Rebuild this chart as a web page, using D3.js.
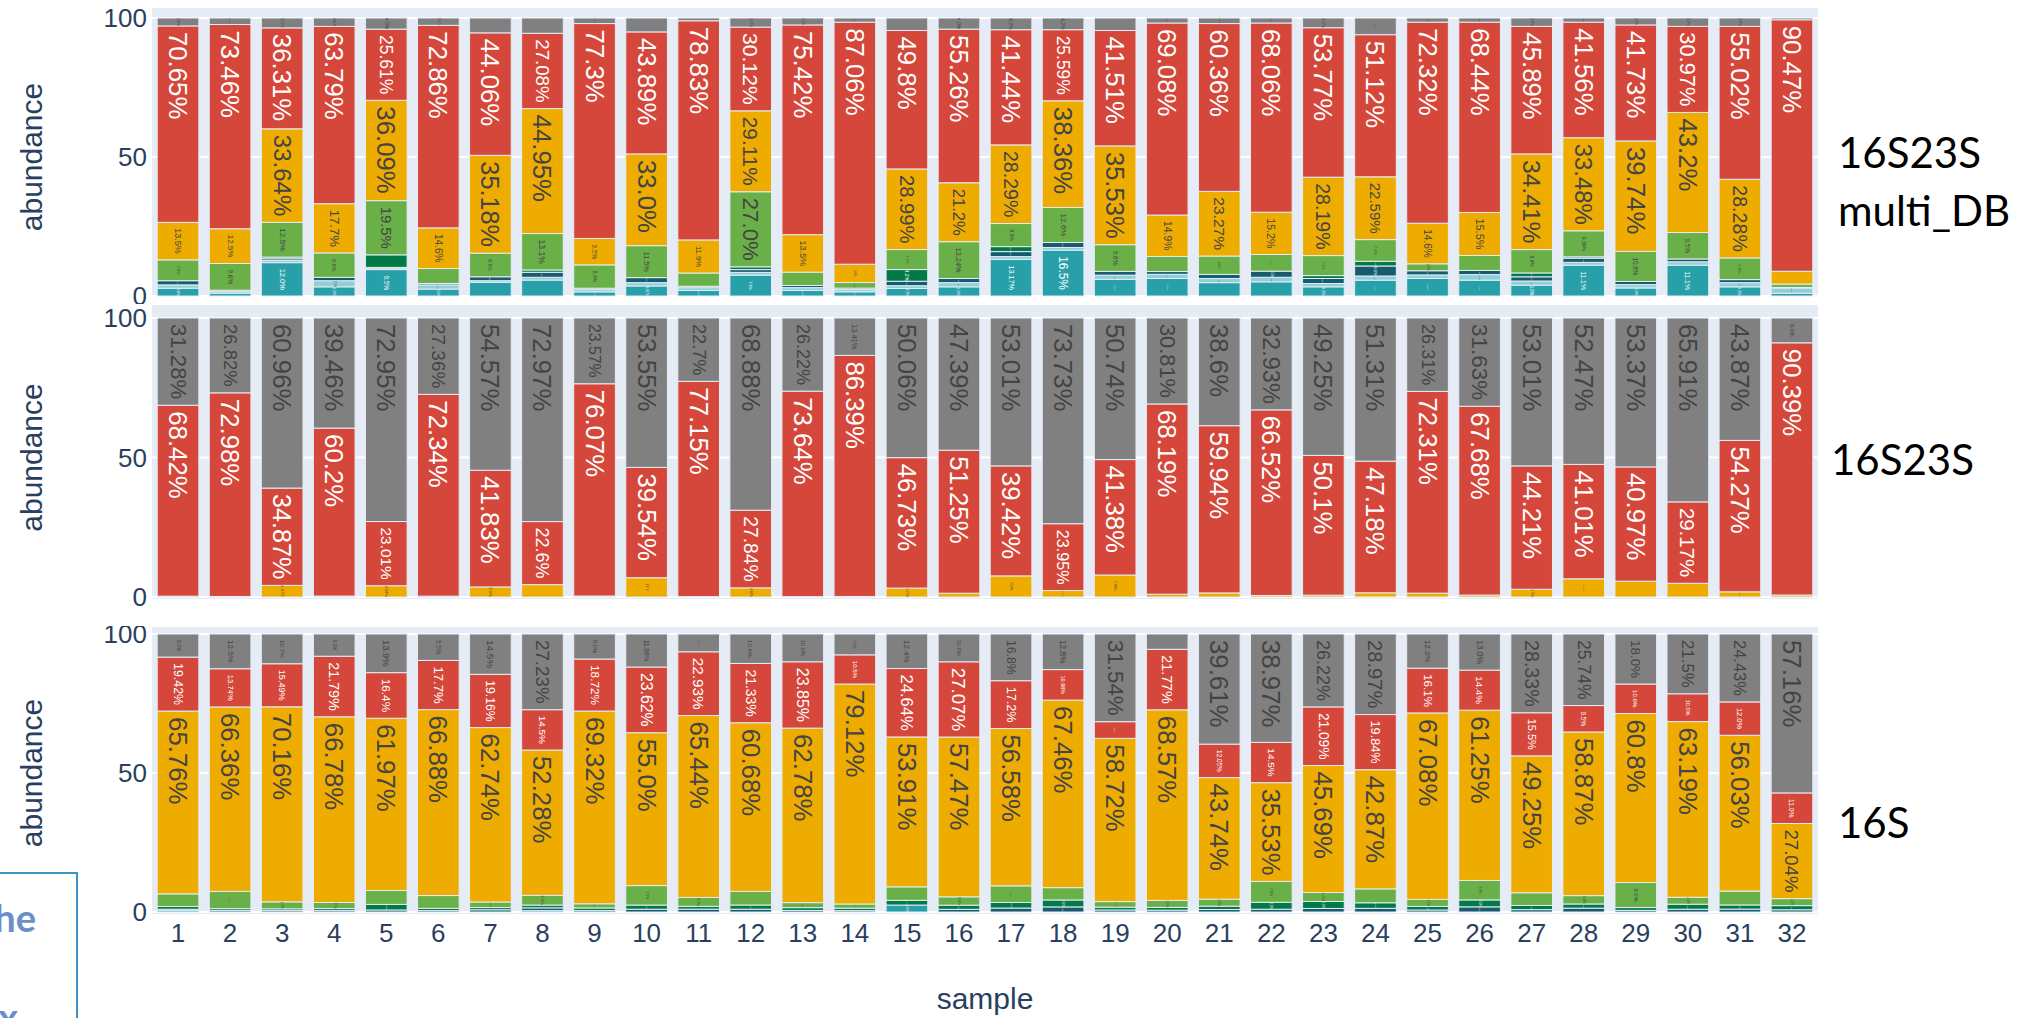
<!DOCTYPE html>
<html><head><meta charset="utf-8">
<script src="https://cdn.jsdelivr.net/npm/d3@7/dist/d3.min.js"></script>
<style>body{margin:0;background:#fff;} svg{display:block;}</style>
</head><body>
<svg id="chart" width="2028" height="1018"></svg>
<script>
// ---------- data ----------
const samples = ["1","2","3","4","5","6","7","8","9","10","11","12","13","14","15","16",
                 "17","18","19","20","21","22","23","24","25","26","27","28","29","30","31","32"];
const yTicks = [0, 50, 100];
const seriesNames = ["teal","ltblue","navy","dkgreen","green","yellow","red","gray"];
const panelNames = ["16S23S\nmulti_DB", "16S23S", "16S"];

// panel 1 : 16S23S multi_DB
const p1_teal   = [2.8,1.0,12.0,3.3,9.5,2.5,4.92,5.73,1.5,3.61,2.0,7.5,2.0,1.5,2.7,3.3,13.17,16.5,6.0,6.3,4.8,5.1,3.3,5.7,6.3,5.7,3.9,11.1,2.9,11.1,3.3,1.0];
const p1_ltblue = [1.2,0.6,0.8,2.2,0.5,1.5,0.6,1.0,0.8,1.2,1.0,1.0,1.0,0.8,1.0,1.5,1.0,0.95,1.5,1.5,1.5,1.64,1.2,1.5,1.28,2.0,1.5,1.0,1.2,1.2,1.5,1.8];
const p1_navy   = [1.5,0.5,0.6,1.2,0.3,0.5,1.4,1.8,0.5,1.8,0.5,1.0,0.78,0.54,1.61,1.5,1.8,1.8,1.36,1.0,1.47,2.2,1.8,3.6,1.5,1.5,1.5,1.5,1.13,1.03,1.1,0.3];
const p1_dkgreen= [0,0,0.6,0,4.5,0,0,0.84,0,0,0,1.0,0,0,4.2,0,1.8,0,0,0,0,0,1.04,1.69,0,0,1.4,0.5,0,0,0,0];
const p1_green  = [7.5,9.6,12.5,8.8,19.5,5.4,8.5,13.1,8.4,11.5,4.77,27.0,4.8,2.0,7.2,13.24,8.3,12.6,9.6,5.42,6.6,6.0,7.2,7.8,2.5,5.36,8.4,9.36,10.8,9.5,7.8,1.2];
const p1_yellow = [13.5,12.5,33.64,17.7,36.09,14.6,35.18,44.95,9.5,33.0,11.9,29.11,13.5,6.6,28.99,21.2,28.29,38.36,35.53,14.9,23.27,15.2,28.19,22.59,14.6,15.5,34.41,33.48,39.74,43.2,28.28,4.6];
const p1_red    = [70.65,73.46,36.31,63.79,25.61,72.86,44.06,27.08,77.3,43.89,78.83,30.12,75.42,87.06,49.8,55.26,41.44,25.59,41.51,69.08,60.36,68.06,53.77,51.12,72.32,68.44,45.89,41.56,41.73,30.97,55.02,90.47];
const p1_gray   = [2.85,2.34,3.55,3.01,4.0,2.64,5.34,5.5,2.0,5.0,1.0,3.27,2.5,1.5,4.5,4.0,4.2,4.2,4.5,1.8,2.0,1.8,3.5,6.0,1.5,1.5,3.0,1.5,2.5,3.0,3.0,0.63];

// panel 2 : 16S23S
const p2_yellow = [0.3,0.2,4.17,0.34,4.04,0.3,3.6,4.43,0.36,6.91,0.15,3.28,0.14,0.2,3.21,1.36,7.57,2.32,7.88,1.0,1.46,0.55,0.65,1.51,1.38,0.69,2.78,6.52,5.66,4.92,1.86,0.71];
const p2_red    = [68.42,72.98,34.87,60.2,23.01,72.34,41.83,22.6,76.07,39.54,77.15,27.84,73.64,86.39,46.73,51.25,39.42,23.95,41.38,68.19,59.94,66.52,50.1,47.18,72.31,67.68,44.21,41.01,40.97,29.17,54.27,90.39];
const p2_gray   = [31.28,26.82,60.96,39.46,72.95,27.36,54.57,72.97,23.57,53.55,22.7,68.88,26.22,13.41,50.06,47.39,53.01,73.73,50.74,30.81,38.6,32.93,49.25,51.31,26.31,31.63,53.01,52.47,53.37,65.91,43.87,8.9];

// panel 3 : 16S
const p3_teal   = [0.5,0,0,0,0,0,0,0.49,0,0,0,0,0,0,2.5,0,0,0,0,0,0,0,0,0,0,0,0,0,0,0,0,0];
const p3_navy   = [0.5,0.5,0.5,0.5,0.73,0.5,0.8,1.0,0.5,1.0,1.03,1.01,0.57,0.48,0,0.96,1.42,1.83,0.74,0.66,0.9,1.0,1.28,1.32,0.72,1.85,0.85,1.39,0.6,1.0,1.04,0.8];
const p3_dkgreen= [1.0,0.7,0.65,0.73,2.0,0.81,0.8,1.0,0.96,1.5,1.0,1.5,1.0,0.9,1.7,1.5,2.0,2.5,1.0,1.0,1.2,2.5,2.5,2.0,1.3,2.5,1.5,1.5,1.0,1.81,1.5,1.5];
const p3_green  = [4.52,6.2,2.5,2.2,5.0,4.61,2.0,3.5,1.5,7.0,3.2,4.88,1.8,1.5,4.85,3.0,6.0,4.43,2.0,2.5,2.5,7.5,3.22,5.0,2.5,7.0,4.57,3.0,9.0,2.5,5.0,2.5];
const p3_yellow = [65.76,66.36,70.16,66.78,61.97,66.88,62.74,52.28,69.32,55.0,65.44,60.68,62.78,79.12,53.91,57.47,56.58,67.46,58.72,68.57,43.74,35.53,45.69,42.87,67.08,61.25,49.25,58.87,60.8,63.19,56.03,27.04];
const p3_red    = [19.42,13.74,15.49,21.79,16.4,17.7,19.16,14.5,18.72,23.62,22.93,21.33,23.85,10.5,24.64,27.07,17.2,10.98,6.0,21.77,12.05,14.5,21.09,19.84,16.1,14.4,15.5,9.5,10.6,10.0,12.0,11.0];
const p3_gray   = [8.3,12.5,10.7,8.0,13.9,9.5,14.5,27.23,9.0,11.88,6.4,10.6,10.0,7.5,12.4,10.0,16.8,12.8,31.54,5.5,39.61,38.97,26.22,28.97,12.3,13.0,28.33,25.74,18.0,21.5,24.43,57.16];

// ---------- styling ----------
const colors = {teal:"#28a0aa", ltblue:"#8fcfd6", navy:"#175b6e", dkgreen:"#017a47",
                green:"#6ab048", yellow:"#efac00", red:"#d5473a", gray:"#808080"};
const W = 2028, H = 1018;
const xLeft = 152, xRight = 1818;
const FONT = "'Liberation Sans', Arial, sans-serif";
const AXIS_COLOR = "#2a3f5f";
const TEXT_F = 26, PAD = 6;

const panels = [
  {data:{teal:p1_teal, ltblue:p1_ltblue, navy:p1_navy, dkgreen:p1_dkgreen, green:p1_green, yellow:p1_yellow, red:p1_red, gray:p1_gray},
   y0:296, y100:18, bgTop:8, bgBottom:297, clipTop:0, clipBottom:304, xAxis:false},
  {data:{yellow:p2_yellow, red:p2_red, gray:p2_gray},
   y0:597, y100:318, bgTop:305, bgBottom:599, clipTop:304, clipBottom:614, xAxis:false},
  {data:{teal:p3_teal, navy:p3_navy, dkgreen:p3_dkgreen, green:p3_green, yellow:p3_yellow, red:p3_red, gray:p3_gray},
   y0:912, y100:634, bgTop:627, bgBottom:914, clipTop:626, clipBottom:1018, xAxis:true}
];

const svg = d3.select("#chart");
svg.append("rect").attr("width", W).attr("height", H).attr("fill", "#fff");

const x = d3.scaleBand().domain(samples).range([xLeft, xRight]).paddingInner(0.2).paddingOuter(0.1);
const bw = x.bandwidth();

function fmt(v) {
  let s = (Math.round(v * 100) / 100).toString();
  if (s.indexOf(".") < 0) s += ".0";
  return s + "%";
}
function textColor(hex) {
  const c = d3.rgb(hex);
  const b = (c.r * 299 + c.g * 587 + c.b * 114) / 1000;
  return b < 128 ? "#ffffff" : "#444444";
}

const defs = svg.append("defs");

panels.forEach((p, pi) => {
  defs.append("clipPath").attr("id", "clip" + pi)
    .append("rect").attr("x", 0).attr("y", p.clipTop).attr("width", W).attr("height", p.clipBottom - p.clipTop);
  const g = svg.append("g").attr("clip-path", `url(#clip${pi})`);
  const y = d3.scaleLinear().domain([0, 100]).range([p.y0, p.y100]);

  g.append("rect").attr("x", xLeft).attr("y", p.bgTop).attr("width", xRight - xLeft)
    .attr("height", p.bgBottom - p.bgTop).attr("fill", "#e5ecf6");

  g.selectAll("line.grid").data(yTicks).join("line")
    .attr("x1", xLeft).attr("x2", xRight)
    .attr("y1", d => y(d)).attr("y2", d => y(d))
    .attr("stroke", "#ffffff").attr("stroke-width", 2);

  const keys = seriesNames.filter(k => p.data[k]);
  const rows = samples.map((s, i) => {
    const r = {sample: s};
    keys.forEach(k => r[k] = p.data[k][i]);
    return r;
  });
  const stacked = d3.stack().keys(keys)(rows);

  const layers = g.selectAll("g.layer").data(stacked).join("g").attr("class", "layer")
    .attr("fill", d => colors[d.key]);
  layers.selectAll("rect").data(d => d.map(v => ({v, key: d.key}))).join("rect")
    .attr("x", d => x(d.v.data.sample))
    .attr("y", d => y(d.v[1]))
    .attr("width", bw)
    .attr("height", d => Math.max(0, y(d.v[0]) - y(d.v[1])))
    .attr("stroke", "#e5ecf6").attr("stroke-width", 1);

  // inside text labels
  const tg = g.append("g");
  stacked.forEach(layer => {
    layer.forEach(v => {
      const val = v[1] - v[0];
      if (val <= 0) return;
      const top = y(v[1]), bot = y(v[0]);
      const segH = bot - top;
      const cx = x(v.data.sample) + bw / 2;
      const t = tg.append("text")
        .attr("font-family", FONT).attr("font-size", TEXT_F)
        .attr("fill", textColor(colors[layer.key]))
        .attr("text-anchor", "start").attr("dominant-baseline", "central")
        .text(fmt(val));
      const L = t.node().getComputedTextLength();
      const pad = (segH > 2 * PAD && bw > 2 * PAD) ? PAD : 0;
      const lx = bw - 2 * pad, ly = segH - 2 * pad;
      const th = TEXT_F * 1.15;
      const sc = Math.min(1, lx / th, ly / L);
      const fs = TEXT_F * sc;
      if (fs < 1.5 || ly <= 0) { t.remove(); return; }
      const ty = top + pad;
      t.attr("font-size", fs)
        .attr("transform", `translate(${cx},${ty}) rotate(90)`);
    });
  });

  // y axis tick labels
  g.selectAll("text.ytick").data(yTicks).join("text")
    .attr("x", xLeft - 5).attr("y", d => y(d))
    .attr("text-anchor", "end").attr("dominant-baseline", "central")
    .attr("font-family", FONT).attr("font-size", 26).attr("fill", AXIS_COLOR)
    .text(d => d);

  // y axis title
  const cy = (p.y0 + p.y100) / 2;
  g.append("text")
    .attr("transform", `translate(31,${cy}) rotate(-90)`)
    .attr("text-anchor", "middle").attr("dominant-baseline", "central")
    .attr("font-family", FONT).attr("font-size", 30).attr("fill", AXIS_COLOR)
    .text("abundance");

  if (p.xAxis) {
    g.selectAll("text.xtick").data(samples).join("text")
      .attr("x", d => x(d) + bw / 2).attr("y", 942)
      .attr("text-anchor", "middle")
      .attr("font-family", FONT).attr("font-size", 26).attr("fill", AXIS_COLOR)
      .text(d => d);
    g.append("text")
      .attr("x", (xLeft + xRight) / 2).attr("y", 1009)
      .attr("text-anchor", "middle")
      .attr("font-family", FONT).attr("font-size", 30).attr("fill", AXIS_COLOR)
      .text("sample");
  }
});

// right-side panel names
const LBL_FONT = "Lato, 'Open Sans', sans-serif";
const nameLayout = [
  {x:1838, ys:[168, 226]},
  {x:1831, ys:[475]},
  {x:1838, ys:[838]}
];
panelNames.forEach((n, i) => {
  const lines = n.split("\n");
  lines.forEach((ln, j) => {
    svg.append("text")
      .attr("x", nameLayout[i].x).attr("y", nameLayout[i].ys[j])
      .attr("font-family", LBL_FONT).attr("font-size", 42).attr("fill", "#000")
      .text(ln);
  });
});

// partially visible slide text box at lower left
svg.append("rect").attr("x", -4).attr("y", 873).attr("width", 81).attr("height", 160)
  .attr("fill", "#fff").attr("stroke", "#3f93c3").attr("stroke-width", 2);
svg.append("text").attr("x", 36).attr("y", 932).attr("text-anchor", "end")
  .attr("font-family", LBL_FONT).attr("font-weight", 700).attr("font-size", 38)
  .attr("fill", "#6a8fc8").text("he");
svg.append("text").attr("x", 18).attr("y", 1031).attr("text-anchor", "end")
  .attr("font-family", LBL_FONT).attr("font-weight", 700).attr("font-size", 38)
  .attr("fill", "#6a8fc8").text("x");
</script>
</body></html>
